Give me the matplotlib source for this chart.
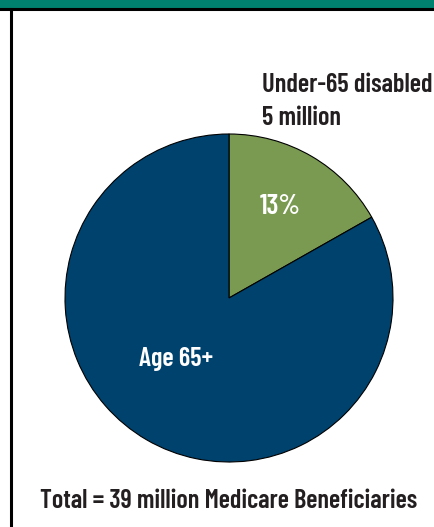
import matplotlib
matplotlib.use("Agg")
import matplotlib.pyplot as plt
from matplotlib.patches import Rectangle

# Medicare beneficiaries by group (wedge shares as drawn in the source picture)
groups = ["Under-65 disabled", "Age 65+"]
slice_share = [16.8, 83.2]
pct_labels = ["13%", ""]
group_colors = ["#7a9a52", "#00426e"]
callout_text = "Under-65 disabled\n5 million"
inner_label = "Age 65+"
total_text = "Total = 39 million Medicare Beneficiaries"

plt.rcParams['font.family'] = ['Barlow Condensed', 'DejaVu Sans']
plt.rcParams['font.weight'] = 600

W, H = 435, 527
fig = plt.figure(figsize=(W / 100, H / 100), dpi=100)
ax = fig.add_axes([0, 0, 1, 1])
ax.set_xlim(0, W)
ax.set_ylim(0, H)
ax.set_aspect('equal')
ax.axis('off')

# header strip and frame
ax.add_patch(Rectangle((0, H - 8), W, 8, color="#00806f", lw=0, zorder=1))
ax.plot([0, W], [H - 9, H - 9], color="black", lw=2.2, zorder=2)
ax.plot([11.5, 11.5], [0, H - 9], color="black", lw=2.2, zorder=2)

wedges, texts = ax.pie(slice_share, colors=group_colors, labels=pct_labels,
                       labeldistance=0.55, startangle=90, counterclock=False,
                       center=(229, H - 298), radius=164,
                       wedgeprops=dict(edgecolor="black", linewidth=0.8),
                       textprops=dict(color="white", fontsize=20, fontweight=600))
texts[0].set_position((280, H - 207))
texts[0].set_ha("center")
texts[0].set_va("center")
ax.set_xlim(0, W)
ax.set_ylim(0, H)

ax.text(262, H - 125, callout_text, ha="left", va="baseline", fontsize=19,
        fontweight=600, color="#231f20", linespacing=1.45)
ax.text(176, H - 359, inner_label, ha="center", va="center", fontsize=19,
        fontweight=600, color="white")
ax.text(229, H - 508, total_text, ha="center", va="baseline", fontsize=18.9,
        fontweight=600, color="#231f20")

fig.savefig("out.png", dpi=100)
